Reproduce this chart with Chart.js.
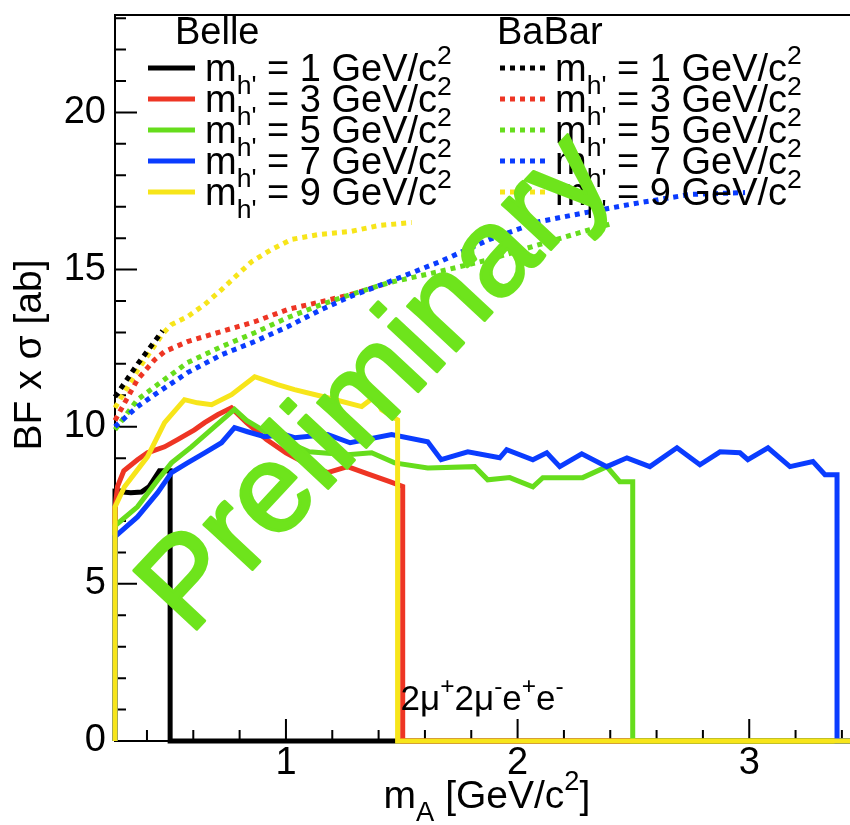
<!DOCTYPE html>
<html>
<head>
<meta charset="utf-8">
<script src="https://cdn.jsdelivr.net/npm/chart.js@4.4.1/dist/chart.umd.min.js"></script>
<style>
  html, body { margin: 0; padding: 0; background: #ffffff; overflow: hidden; }
  canvas { display: block; }
</style>
</head>
<body>
<canvas id="c" width="850" height="825"></canvas>
<script>
// ---- axis ranges ----
const X_RANGE = [0.262, 3.435];
const Y_RANGE = [0, 23.1];

// ---- h' masses (GeV/c^2) shown in the legend ----
const MASSES = ['1', '3', '5', '7', '9'];

// ---- Belle limits, BF x sigma [ab] vs m_A [GeV/c^2] ----
const belle1X = [0.262, 0.262, 0.33, 0.376, 0.41, 0.454, 0.50, 0.50, 3.435];
const belle1Y = [0, 7.95, 7.9, 7.92, 8.1, 8.6, 8.6, 0, 0];

const belle3X = [0.262, 0.262, 0.273, 0.30, 0.359, 0.402, 0.476, 0.532, 0.605, 0.649, 0.705, 0.765, 0.83, 0.916, 1.0, 1.08, 1.18, 1.266, 1.353, 1.448, 1.504, 1.504, 3.435];
const belle3Y = [0, 7.4, 8.1, 8.6, 8.95, 9.17, 9.36, 9.59, 9.9, 10.13, 10.38, 10.6, 10.13, 9.59, 9.17, 8.85, 8.54, 8.73, 8.5, 8.25, 8.1, 0, 0];

const belle5X = [0.262, 0.262, 0.359, 0.446, 0.506, 0.592, 0.692, 0.778, 0.83, 0.92, 1.10, 1.266, 1.37, 1.469, 1.612, 1.815, 1.871, 1.966, 2.066, 2.109, 2.281, 2.385, 2.441, 2.497, 2.497, 3.435];
const belle5Y = [0, 6.85, 7.45, 8.3, 8.85, 9.36, 10.0, 10.55, 10.2, 9.8, 9.2, 9.11, 9.17, 8.85, 8.69, 8.73, 8.31, 8.38, 8.09, 8.38, 8.38, 8.73, 8.25, 8.25, 0, 0];

const belle7X = [0.262, 0.262, 0.359, 0.446, 0.506, 0.575, 0.649, 0.722, 0.778, 0.834, 0.908, 0.994, 1.037, 1.18, 1.277, 1.456, 1.612, 1.67, 1.785, 1.923, 1.953, 2.066, 2.126, 2.182, 2.277, 2.385, 2.472, 2.571, 2.688, 2.787, 2.874, 2.96, 2.994, 3.081, 3.176, 3.275, 3.327, 3.379, 3.379, 3.435];
const belle7Y = [0, 6.5, 7.13, 7.9, 8.54, 8.85, 9.17, 9.49, 9.97, 9.84, 9.68, 9.75, 9.65, 9.75, 9.49, 9.75, 9.52, 8.95, 9.2, 9.01, 9.27, 8.95, 9.17, 8.73, 9.14, 8.73, 9.01, 8.73, 9.33, 8.79, 9.2, 9.17, 8.95, 9.33, 8.73, 8.89, 8.47, 8.47, 0, 0];

const belle9X = [0.262, 0.262, 0.303, 0.402, 0.476, 0.562, 0.618, 0.679, 0.765, 0.865, 0.964, 1.037, 1.18, 1.327, 1.383, 1.413, 1.482, 1.482, 3.435];
const belle9Y = [0, 7.45, 8.09, 9.04, 10.13, 10.86, 10.76, 10.7, 11.02, 11.59, 11.34, 11.18, 10.92, 10.64, 10.96, 10.54, 10.22, 0, 0];

// ---- BaBar limits ----
const babar1X = [0.262, 0.36, 0.467];
const babar1Y = [10.95, 12.0, 13.05];

const babar3X = [0.262, 0.359, 0.433, 0.476, 0.575, 0.722, 0.865, 1.007, 1.154, 1.277, 1.448];
const babar3Y = [10.2, 11.5, 12.13, 12.39, 12.71, 13.03, 13.34, 13.73, 13.98, 14.2, 14.59];

const babar5X = [0.262, 0.359, 0.433, 0.575, 0.722, 0.865, 1.007, 1.154, 1.277, 1.448, 1.664, 1.879, 2.022, 2.169, 2.312, 2.40];
const babar5Y = [9.9, 10.86, 11.27, 12.04, 12.55, 12.99, 13.47, 13.89, 14.2, 14.59, 14.94, 15.32, 15.64, 15.96, 16.27, 16.45];

const babar7X = [0.262, 0.359, 0.433, 0.575, 0.722, 0.865, 1.007, 1.154, 1.277, 1.448, 1.664, 1.879, 2.096, 2.299, 2.528, 2.744, 2.982];
const babar7Y = [10.0, 10.64, 11.02, 11.72, 12.29, 12.71, 13.18, 13.73, 14.14, 14.62, 15.25, 15.96, 16.53, 16.82, 17.13, 17.39, 17.45];

const babar9X = [0.262, 0.36, 0.467, 0.506, 0.575, 0.649, 0.722, 0.791, 0.852, 0.938, 1.024, 1.137, 1.277, 1.40, 1.543];
const babar9Y = [10.6, 11.8, 12.95, 13.25, 13.5, 13.89, 14.36, 14.84, 15.25, 15.64, 15.96, 16.11, 16.21, 16.4, 16.5];

// ---- styling ----
const FONT = "'Liberation Sans', Arial, Helvetica, sans-serif";
const COLORS = ['#000000', '#ee3524', '#66dd1c', '#0a3cff', '#f7e51a'];
const PRELIM_COLOR = '#6ee41c';
const LINE_W = 5;
const DOTS = [5, 5];

const pts = (xs, ys) => xs.map((x, i) => ({ x: x, y: ys[i] }));

const belleSets = [[belle1X, belle1Y], [belle3X, belle3Y], [belle5X, belle5Y], [belle7X, belle7Y], [belle9X, belle9Y]];
const babarSets = [[babar1X, babar1Y], [babar3X, babar3Y], [babar5X, babar5Y], [babar7X, babar7Y], [babar9X, babar9Y]];

// drawing weight: lower order is painted later (on top)
const belleOrder = [4, 3, 2, 1, 0];
const babarOrder = [5, 8, 7, 6, 9];

const datasets = [];
belleSets.forEach(([xs, ys], i) => datasets.push({
  label: 'Belle ' + MASSES[i],
  group: 'Belle', mass: MASSES[i],
  data: pts(xs, ys),
  borderColor: COLORS[i], backgroundColor: COLORS[i],
  borderWidth: LINE_W, borderDash: [],
  pointRadius: 0, tension: 0, fill: false,
  order: belleOrder[i], clip: 10
}));
babarSets.forEach(([xs, ys], i) => datasets.push({
  label: 'BaBar ' + MASSES[i],
  group: 'BaBar', mass: MASSES[i],
  data: pts(xs, ys),
  borderColor: COLORS[i], backgroundColor: COLORS[i],
  borderWidth: LINE_W, borderDash: DOTS, borderCapStyle: 'butt',
  pointRadius: 0, tension: 0, fill: false,
  order: babarOrder[i], clip: 10
}));

// text with sub/superscript parts
function richWidth(ctx, parts, size) {
  let w = 0;
  for (const p of parts) {
    ctx.font = (p.k ? size * 0.7 : size) + 'px ' + FONT;
    w += ctx.measureText(p.t).width;
  }
  return w;
}
function richText(ctx, x, y, parts, size) {
  let cx = x;
  ctx.textAlign = 'left';
  ctx.textBaseline = 'alphabetic';
  for (const p of parts) {
    const s = p.k ? size * 0.7 : size;
    ctx.font = s + 'px ' + FONT;
    const dy = p.k === 'sub' ? size * 0.33 : (p.k === 'sup' ? -size * 0.45 : 0);
    ctx.fillText(p.t, cx, y + dy);
    cx += ctx.measureText(p.t).width;
  }
  return cx - x;
}
const massParts = m => [{ t: 'm' }, { t: "h'", k: 'sub' }, { t: ' = ' + m + ' GeV/c' }, { t: '2', k: 'sup' }];

const framePlugin = {
  id: 'frame',
  beforeDatasetsDraw(chart) {
    const { ctx, chartArea: a, scales: { x, y } } = chart;
    ctx.save();
    ctx.strokeStyle = '#000';
    ctx.lineWidth = 2;
    // top edge of the frame
    ctx.beginPath();
    ctx.moveTo(a.left, a.top);
    ctx.lineTo(a.right, a.top);
    ctx.stroke();
    // inward tick marks
    ctx.beginPath();
    y.ticks.forEach(t => {
      const py = y.getPixelForValue(t.value);
      const len = Math.abs(t.value % 5) < 1e-6 ? 22 : 11;
      ctx.moveTo(a.left, py);
      ctx.lineTo(a.left + len, py);
    });
    x.ticks.forEach(t => {
      const px = x.getPixelForValue(t.value);
      const len = Math.abs(t.value - Math.round(t.value)) < 1e-6 ? 22 : 11;
      ctx.moveTo(px, a.bottom);
      ctx.lineTo(px, a.bottom - len);
    });
    ctx.stroke();
    ctx.restore();
  },
  afterDatasetsDraw(chart) {
    const { ctx, scales: { x, y } } = chart;
    ctx.save();
    ctx.fillStyle = '#000';

    // legend: two columns (Belle solid, BaBar dotted)
    const cols = [
      { name: 'Belle', head: 175, l0: 148, l1: 195, tx: 205 },
      { name: 'BaBar', head: 497, l0: 500, l1: 545, tx: 555 }
    ];
    const rowY = [68, 99, 130, 161, 192];
    const LSIZE = 38;
    cols.forEach(col => {
      ctx.font = LSIZE + 'px ' + FONT;
      ctx.textAlign = 'left';
      ctx.textBaseline = 'alphabetic';
      ctx.fillStyle = '#000';
      ctx.fillText(col.name, col.head, 44);
      const sets = chart.data.datasets.filter(d => d.group === col.name);
      sets.forEach((d, i) => {
        ctx.save();
        ctx.strokeStyle = d.borderColor;
        ctx.lineWidth = d.borderWidth;
        ctx.setLineDash(d.borderDash);
        ctx.lineCap = 'butt';
        ctx.beginPath();
        ctx.moveTo(col.l0, rowY[i]);
        ctx.lineTo(col.l1, rowY[i]);
        ctx.stroke();
        ctx.restore();
        ctx.fillStyle = '#000';
        richText(ctx, col.tx, rowY[i] + 13, massParts(d.mass), LSIZE);
      });
    });

    // channel label
    richText(ctx, x.getPixelForValue(1.495), y.getPixelForValue(1.0),
      [{ t: '2μ' }, { t: '+', k: 'sup' }, { t: '2μ' }, { t: '-', k: 'sup' },
       { t: 'e' }, { t: '+', k: 'sup' }, { t: 'e' }, { t: '-', k: 'sup' }], 35);

    // axis titles
    const xt = [{ t: 'm' }, { t: 'A', k: 'sub' }, { t: ' [GeV/c' }, { t: '2', k: 'sup' }, { t: ']' }];
    const xw = richWidth(ctx, xt, 39);
    richText(ctx, 487 - xw / 2, 808, xt, 39);

    ctx.save();
    ctx.translate(30, 355);
    ctx.rotate(-Math.PI / 2);
    ctx.font = '39px ' + FONT;
    ctx.textAlign = 'center';
    ctx.textBaseline = 'middle';
    ctx.fillText('BF x σ [ab]', 0, 0);
    ctx.restore();

    ctx.restore();
  },
  afterDraw(chart) {
    const { ctx, scales: { x, y } } = chart;
    ctx.save();
    ctx.translate(x.getPixelForValue(1.396), y.getPixelForValue(11.34));
    ctx.rotate(-47 * Math.PI / 180);
    ctx.font = '125px ' + FONT;
    ctx.textAlign = 'center';
    ctx.textBaseline = 'middle';
    ctx.fillStyle = PRELIM_COLOR;
    ctx.strokeStyle = PRELIM_COLOR;
    ctx.lineWidth = 3;
    ctx.lineJoin = 'round';
    ctx.fillText('Preliminary', 0, 0);
    ctx.strokeText('Preliminary', 0, 0);
    ctx.restore();
  }
};

new Chart(document.getElementById('c'), {
  type: 'line',
  data: { datasets: datasets },
  options: {
    responsive: false,
    animation: false,
    devicePixelRatio: 1,
    layout: { padding: { top: 15, right: 0, left: 0, bottom: 0 } },
    plugins: { legend: { display: false }, tooltip: { enabled: false } },
    scales: {
      x: {
        type: 'linear',
        min: X_RANGE[0], max: X_RANGE[1],
        afterFit: s => { s.height = 84; s.paddingLeft = 0; s.paddingRight = 0; },
        border: { display: true, color: '#000', width: 2 },
        grid: { display: true, drawOnChartArea: false, drawTicks: false },
        ticks: {
          stepSize: 0.2, includeBounds: false, autoSkip: false, maxRotation: 0,
          padding: 0, color: '#000',
          font: { size: 38, family: FONT },
          callback: v => Math.abs(v - Math.round(v)) < 1e-6 ? String(Math.round(v)) : ''
        }
      },
      y: {
        type: 'linear',
        min: Y_RANGE[0], max: Y_RANGE[1],
        afterFit: s => { s.width = 115; s.paddingTop = 0; s.paddingBottom = 0; },
        border: { display: true, color: '#000', width: 2 },
        grid: { display: true, drawOnChartArea: false, drawTicks: false },
        ticks: {
          stepSize: 1, includeBounds: false, autoSkip: false,
          padding: 9, color: '#000',
          font: { size: 38, family: FONT },
          callback: v => Math.abs(v % 5) < 1e-6 ? String(v) : ''
        }
      }
    }
  },
  plugins: [framePlugin]
});
</script>
</body>
</html>
